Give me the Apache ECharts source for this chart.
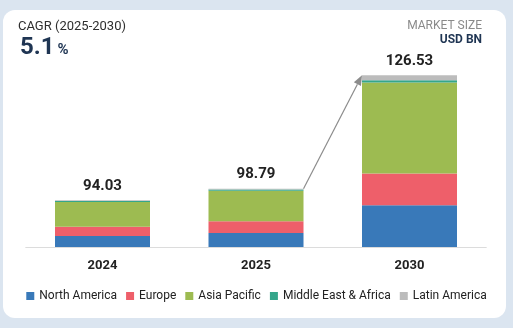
<!DOCTYPE html>
<html>
<head>
<meta charset="utf-8">
<style>
  html, body { margin: 0; padding: 0; background: #dbe5f0; }
  #chart { width: 513px; height: 328px; }
</style>
<script src="https://cdn.jsdelivr.net/npm/echarts@6/dist/echarts.min.js"></script>
</head>
<body>
<div id="chart"></div>
<script>
// Market size by region, USD BN
const years = ['2024', '2025', '2030'];
const regions = ['North America', 'Europe', 'Asia Pacific', 'Middle East & Africa', 'Latin America'];
const northAmerica     = [22.15, 23.76, 30.73];
const europe           = [18.73, 19.86, 23.36];
const asiaPacific      = [49.70, 51.77, 67.06];
const middleEastAfrica = [2.00, 2.20, 1.69];
const latinAmerica     = [1.45, 1.20, 3.69];
const totals           = [94.03, 98.79, 126.53];
const cagrLabel = 'CAGR (2025-2030)';
const cagrValue = '5.1';

const regionValues = [northAmerica, europe, asiaPacific, middleEastAfrica, latinAmerica];
const regionColors = ['#3979b9', '#ee5f6a', '#9dbb51', '#35a68b', '#bcbcbc'];

// each year column gets its own value scale (infographic-style bars)
const axisMax = [376.5, 317.4, 137.8];
const BAR_W = 95;
const FONT = 'Roboto, "Liberation Sans", sans-serif';

const chart = echarts.init(document.getElementById('chart'));

const series = [];
years.forEach((yr, yi) => {
  regions.forEach((name, ri) => {
    const data = years.map((_, i) => (i === yi ? regionValues[ri][i] : '-'));
    const s = {
      name: name,
      type: 'bar',
      stack: 'year' + yi,
      yAxisIndex: yi,
      barWidth: BAR_W,
      barGap: '-100%',
      data: data,
      itemStyle: { color: regionColors[ri] },
      emphasis: { disabled: true },
      animation: false
    };
    if (ri === regions.length - 1) {
      s.label = {
        show: true,
        position: 'top',
        distance: 7,
        formatter: (p) => totals[p.dataIndex].toFixed(2),
        fontFamily: FONT,
        fontSize: 15,
        fontWeight: 'bold',
        color: '#222'
      };
    }
    series.push(s);
  });
});

const staticGraphics = [
  {
    id: 'card', type: 'rect', z: -10, silent: true,
    shape: { x: 3, y: 10, width: 503, height: 308, r: 12 },
    style: { fill: '#ffffff', stroke: null }
  },
  {
    id: 'cagrLabel', type: 'text', left: 18, top: 20,
    style: { text: cagrLabel, font: '13px ' + FONT, fill: '#2e2e2e' }
  },
  {
    id: 'cagrValue', type: 'text', left: 20, top: 36,
    style: {
      text: '{v|' + cagrValue + '}{p|%}',
      rich: {
        v: { fontFamily: FONT, fontSize: 24, fontWeight: 'bold', fill: '#1f3553' },
        p: { fontFamily: FONT, fontSize: 15, fontWeight: 'bold', fill: '#1f3553', padding: [5, 0, 0, 3] }
      }
    }
  },
  {
    id: 'unitTop', type: 'text', right: 31, top: 20,
    style: { text: 'MARKET SIZE', font: '12px ' + FONT, fill: '#8a8a8a' }
  },
  {
    id: 'unitBottom', type: 'text', right: 31, top: 34,
    style: { text: 'USD BN', font: 'bold 12px ' + FONT, fill: '#1f3553' }
  }
];

chart.setOption({
  animation: false,
  backgroundColor: '#dbe5f0',
  textStyle: { fontFamily: FONT },
  graphic: staticGraphics,
  legend: {
    data: regions,
    left: 'center',
    top: 285,
    icon: 'rect',
    itemWidth: 8,
    itemHeight: 8,
    itemGap: 9,
    textStyle: { fontFamily: FONT, fontSize: 12, color: '#222' }
  },
  grid: { left: 25.75, right: 26.75, top: 60, bottom: 81 },
  xAxis: {
    type: 'category',
    data: years,
    axisLine: { lineStyle: { color: '#dcdcdc', width: 1 } },
    axisTick: { show: false },
    axisLabel: { margin: 12, fontFamily: FONT, fontSize: 13, fontWeight: 'bold', color: '#222' }
  },
  yAxis: axisMax.map((m) => ({
    type: 'value', min: 0, max: m, show: false, splitLine: { show: false }
  })),
  series: series
});

// growth arrow from the 2025 bar's top-right corner to the 2030 bar's top-left corner
const p1 = chart.convertToPixel({ xAxisIndex: 0, yAxisIndex: 1 }, [1, totals[1]]);
const p2 = chart.convertToPixel({ xAxisIndex: 0, yAxisIndex: 2 }, [2, totals[2]]);
const x1 = p1[0] + BAR_W / 2, y1 = p1[1];
const x2 = p2[0] - BAR_W / 2, y2 = p2[1];
const dx = x2 - x1, dy = y2 - y1;
const len = Math.sqrt(dx * dx + dy * dy);
const ux = dx / len, uy = dy / len;
const headLen = 10, headHalf = 4;
const bx = x2 - ux * headLen, by = y2 - uy * headLen;
chart.setOption({
  graphic: staticGraphics.concat([
    {
      id: 'arrowShaft', type: 'line', z: 1, silent: true,
      shape: { x1: x1, y1: y1, x2: bx, y2: by },
      style: { stroke: '#8c8c8c', lineWidth: 1.2 }
    },
    {
      id: 'arrowHead', type: 'polygon', z: 1, silent: true,
      shape: { points: [[x2, y2], [bx - uy * headHalf, by + ux * headHalf], [bx + uy * headHalf, by - ux * headHalf]] },
      style: { fill: '#8c8c8c' }
    }
  ])
});
</script>
</body>
</html>
